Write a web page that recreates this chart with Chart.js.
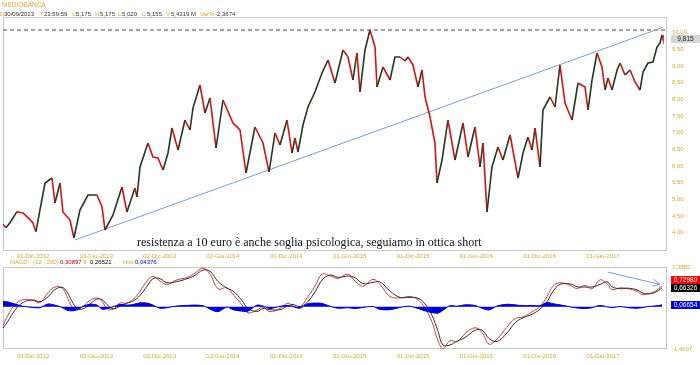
<!DOCTYPE html>
<html><head><meta charset="utf-8">
<script src="https://cdn.jsdelivr.net/npm/chart.js@4"></script>
<style>
html,body{margin:0;padding:0;background:#fff;}
body{width:700px;height:365px;overflow:hidden;position:relative;font-family:"Liberation Sans",Arial,sans-serif;}
canvas{position:absolute;left:0;}
#c1{top:0;} #c2{top:250px;}
.t{position:absolute;font-size:6px;line-height:7px;white-space:nowrap;color:#333;z-index:2;}
.g{color:#d9a936;}
</style></head><body>
<canvas id="c1" width="700" height="262"></canvas>
<canvas id="c2" width="700" height="115"></canvas>
<div class="t g" style="left:2px;top:1px;font-size:6.5px;color:#e3a22e;">MEDIOBANCA</div>
<div class="t g" style="left:0px;top:11px">D</div><div class="t" style="left:4px;top:11px">30/09/2013</div>
<div class="t g" style="left:40px;top:11px">T</div><div class="t" style="left:44px;top:11px">23:59:59</div>
<div class="t g" style="left:72px;top:11px">O</div><div class="t" style="left:76px;top:11px">5,175</div>
<div class="t g" style="left:95px;top:11px">H</div><div class="t" style="left:100px;top:11px">5,175</div>
<div class="t g" style="left:118px;top:11px">L</div><div class="t" style="left:122px;top:11px">5,020</div>
<div class="t g" style="left:142px;top:11px">C</div><div class="t" style="left:147px;top:11px">5,155</div>
<div class="t g" style="left:166px;top:11px">V</div><div class="t" style="left:171px;top:11px">5,4319 M</div>
<div class="t g" style="left:200px;top:11px">Var%</div><div class="t" style="left:215px;top:11px">-2,3674</div>
<div class="t g" style="left:10px;top:259px">MACD</div>
<div class="t g" style="left:33px;top:259px">(12 , 200)</div>
<div class="t" style="left:60px;top:259px;color:#c00000">0,30897</div>
<div class="t g" style="left:83px;top:259px">9</div>
<div class="t" style="left:90px;top:259px;color:#000">0,26521</div>
<div class="t g" style="left:123px;top:259px">Hist</div>
<div class="t" style="left:135px;top:259px;color:#0000b0">0,04376</div>
<script>
// ---------- DATA ----------
const dateTickMonths = [0, 6, 12, 18, 24, 30, 36, 42, 48, 54];
const dateTickLabels = ["03-Dic-2012","03-Giu-2013","02-Dic-2013","02-Giu-2014","01-Dic-2014","01-Giu-2015","01-Dic-2015","01-Giu-2016","01-Dic-2016","01-Giu-2017"];
const priceTicks = [4,4.5,5,5.5,6,6.5,7,7.5,8,8.5,9,9.5,10];
const macdAxisTicks = [-1.4697, 1.3882];

const priceMonths = [-2.84,-2.56,-2.18,-1.52,-0.95,-0.47,0,0.28,0.66,1.14,1.80,2.08,2.56,2.84,3.51,3.88,4.45,5.21,6.06,6.54,6.82,7.58,8.43,8.90,9.66,9.85,10.14,10.89,11.37,11.84,12.32,12.79,13.17,13.74,14.40,14.87,15.16,15.82,16.29,16.77,17.34,18.00,18.95,19.61,20.18,21.03,21.79,22.36,22.93,23.40,24.06,24.54,24.82,25.10,25.58,26.05,26.71,27.38,27.95,28.61,29.37,29.84,30.31,30.69,30.98,31.45,31.92,32.40,32.59,33.16,33.82,34.29,34.77,35.24,35.53,36.00,36.47,36.85,37.14,37.61,38.08,38.27,38.75,39.31,39.98,40.74,41.21,41.87,42.35,42.63,43.01,43.48,44.05,44.52,45.19,45.95,46.42,46.89,47.27,47.56,48.03,48.31,48.98,49.45,49.92,50.40,51.06,51.63,52.29,52.58,52.96,53.43,53.90,54.19,54.47,54.85,55.33,55.61,56.08,56.56,57.03,57.50,57.79,58.26,58.73,59.11,59.40,59.59,59.68];
const priceValues = [4.25,4.15,4.30,4.63,4.59,4.45,4.29,4.03,4.68,5.49,5.64,4.89,5.49,4.62,4.38,3.84,4.68,5.13,5.13,4.77,4.08,4.53,5.37,4.62,5.34,5.07,5.97,6.69,6.27,6.24,5.88,6.39,7.14,6.48,7.38,7.08,7.74,8.43,7.59,8.04,6.54,7.98,7.29,7.08,5.79,7.17,6.69,5.82,6.99,6.63,7.38,6.39,6.84,6.42,7.23,7.77,8.22,8.79,9.18,8.49,9.48,9.27,8.58,9.39,8.22,9.48,10.08,9.57,8.37,8.97,8.58,9.27,9.27,9.15,9.27,9.03,8.37,8.88,8.07,7.47,6.69,5.49,6.18,7.38,6.18,7.29,6.27,7.17,5.97,6.69,4.62,5.97,6.57,6.18,6.93,5.64,6.39,6.87,6.48,7.14,5.97,7.68,8.07,7.77,9.03,7.89,7.38,8.49,8.37,7.68,8.58,9.39,8.97,8.28,8.64,8.28,8.88,9.09,8.73,8.88,8.52,8.28,8.82,9.09,9.12,9.57,9.69,9.93,9.815];

const trendMonths = [3.98, 59.68];
const trendValues = [3.78, 10.16];
const resistanceLevel = 10.08;
const noteText = "resistenza a 10 euro è anche soglia psicologica, seguiamo in ottica short";
const noteMonth = 9.85, noteValue = 3.68;

const macdMonths = [-2.84,-2.37,-1.71,-0.95,0,0.66,1.42,2.08,2.75,3.22,3.69,4.17,4.74,5.40,6.06,6.54,7.01,7.58,8.24,8.90,9.47,10.14,10.80,11.37,12.03,12.69,13.64,14.59,15.35,16.10,16.77,17.53,18.38,18.95,19.80,20.37,21.22,21.79,22.45,23.40,24.16,24.63,25.29,25.96,26.71,27.38,28.14,28.89,29.84,30.50,31.26,32.21,32.87,33.82,34.77,35.71,36.47,37.14,37.80,38.37,38.84,39.50,40.17,40.92,41.87,42.53,43.20,43.96,44.90,45.66,46.42,47.27,48.03,48.69,49.26,49.92,50.87,51.54,52.29,52.96,53.71,54.38,54.85,55.61,56.37,57.22,57.69,58.26,58.92,59.59];
const macdValues = [-0.65,-0.29,0.07,0.25,0.22,0.15,0.49,0.69,0.66,0.36,0.01,-0.11,0.01,0.22,0.31,0.19,-0.05,-0.09,0.13,0.13,0.25,0.54,0.90,1.06,0.90,0.78,0.94,1.02,1.18,1.35,1.14,0.63,0.66,0.43,0.07,-0.21,-0.11,-0.01,-0.17,-0.05,0.13,0.03,-0.01,0.31,0.72,1.14,1.08,0.99,1.14,0.90,0.72,0.96,0.78,0.36,0.31,0.36,0.25,-0.05,-0.53,-1.18,-1.46,-1.18,-1.21,-0.94,-0.73,-0.89,-1.30,-1.12,-0.71,-0.41,-0.35,-0.17,0.01,0.36,0.72,0.84,0.75,0.64,0.75,0.63,0.94,0.80,0.60,0.66,0.63,0.54,0.43,0.46,0.54,0.72980];
const signalValues = [-0.75,-0.50,-0.12,0.15,0.24,0.18,0.35,0.60,0.68,0.52,0.20,-0.05,-0.07,0.10,0.27,0.25,0.08,-0.07,0.02,0.13,0.20,0.40,0.72,0.98,0.98,0.84,0.88,0.98,1.10,1.28,1.24,0.88,0.65,0.55,0.22,-0.06,-0.16,-0.06,-0.10,-0.10,0.04,0.08,0.01,0.15,0.52,0.93,1.11,1.03,1.07,1.02,0.81,0.85,0.87,0.55,0.33,0.33,0.30,0.10,-0.30,-0.85,-1.33,-1.33,-1.20,-1.07,-0.82,-0.81,-1.10,-1.21,-0.91,-0.56,-0.38,-0.26,-0.08,0.18,0.54,0.78,0.80,0.70,0.69,0.69,0.78,0.87,0.70,0.63,0.65,0.59,0.49,0.45,0.50,0.66326];
const histValues = [0.19,0.17,0.10,0.02,-0.02,-0.03,0.10,0.06,-0.02,-0.12,-0.14,-0.10,0.02,0.09,0.06,-0.08,-0.07,0.00,0.08,0.06,0.08,0.14,0.13,0.06,-0.05,-0.03,0.03,0.05,0.06,0.04,-0.08,-0.17,-0.01,-0.10,-0.15,-0.15,0.06,0.03,-0.06,0.02,0.05,0.01,-0.05,0.10,0.13,0.12,0.02,-0.05,-0.03,-0.06,-0.02,0.01,-0.09,-0.10,-0.02,0.02,-0.06,-0.14,-0.20,-0.22,-0.12,0.04,0.02,0.07,0.05,-0.05,-0.11,0.03,0.09,0.07,0.04,0.05,0.04,0.15,0.11,0.07,0.00,-0.04,-0.06,-0.03,0.05,0.00,-0.03,0.01,-0.03,-0.05,-0.03,0.01,0.03,0.06654];
const arrowMonths = [54.47, 59.40];
const arrowValues = [1.21, 0.78];

const xMin = -2.84, xMax = 60.06;
const priceMin = 3.45, priceMax = 10.47;

// ---------- STYLE ----------
const GOLD = '#d9a936';
const UP = '#1f3a20', DOWN = '#d41212';
const TREND = '#7b9bdc';
const tickFont = {family:'"Liberation Sans", Arial, sans-serif', size:6};
const comma = (v,d) => v.toFixed(d).replace('.', ',');
const pts = (xs, ys) => xs.map((x,i)=>({x, y:ys[i]}));

const framePlugin = {
  id:'frame',
  beforeDatasetsDraw(chart){
    const a = chart.chartArea, c = chart.ctx;
    c.save(); c.strokeStyle = '#c9c9c9'; c.lineWidth = 1;
    c.strokeRect(Math.round(a.left)+0.5, Math.round(a.top)+0.5, Math.round(a.right-a.left)-1, Math.round(a.bottom-a.top)-1);
    c.restore();
  }
};

function valueBoxes(chart, items){
  const c = chart.ctx, a = chart.chartArea, y = chart.scales.y, h = 8;
  items.forEach(it => it.py = y.getPixelForValue(it.v));
  items.sort((p,q)=>q.py-p.py);
  for (let i=1;i<items.length;i++){
    if (items[i].py > items[i-1].py - h) items[i].py = items[i-1].py - h;
  }
  c.save();
  items.forEach(it=>{
    c.fillStyle = it.bg;
    c.fillRect(a.right+4, Math.round(it.py - h/2), chart.width - a.right - 4, h);
    c.fillStyle = it.fg; c.font = '6.5px "Liberation Sans", Arial, sans-serif';
    c.textAlign='center'; c.textBaseline='middle';
    c.fillText(it.txt, (a.right+4+chart.width)/2, Math.round(it.py)+0.5);
  });
  c.restore();
}

const mainPlugin = {
  id:'mainExtras',
  afterDraw(chart){
    const c = chart.ctx, x = chart.scales.x, y = chart.scales.y;
    c.save();
    c.font = '12px "Liberation Serif", "Times New Roman", serif';
    c.fillStyle = '#111'; c.textAlign='left'; c.textBaseline='middle';
    c.fillText(noteText, x.getPixelForValue(noteMonth), y.getPixelForValue(noteValue));
    c.restore();
    const last = priceValues[priceValues.length-1];
    valueBoxes(chart, [{v:last, bg:'#d6d6d6', fg:'#222', txt:comma(last,3)}]);
  }
};

const macdPlugin = {
  id:'macdExtras',
  afterDraw(chart){
    const meta = chart.getDatasetMeta(3);
    const p0 = meta.data[0], p1 = meta.data[1], c = chart.ctx;
    const ang = Math.atan2(p1.y-p0.y, p1.x-p0.x), L = 8;
    c.save(); c.strokeStyle = TREND; c.lineWidth = 1;
    c.beginPath();
    [-0.45, 0.45].forEach(d=>{
      c.moveTo(p1.x, p1.y);
      c.lineTo(p1.x - L*Math.cos(ang+d), p1.y - L*Math.sin(ang+d));
    });
    c.stroke(); c.restore();
    const n = macdValues.length-1;
    valueBoxes(chart, [
      {v:macdValues[n], bg:'#ff0000', fg:'#fff', txt:comma(macdValues[n],5)},
      {v:signalValues[n], bg:'#000000', fg:'#fff', txt:comma(signalValues[n],5)},
      {v:histValues[n], bg:'#0000cc', fg:'#fff', txt:comma(histValues[n],5)}
    ]);
  }
};

const xScale = (h, pad) => ({
  type:'linear', min:xMin, max:xMax, position:'bottom',
  grid:{display:false, drawTicks:false}, border:{display:false},
  afterBuildTicks: s => { s.ticks = dateTickMonths.map(v=>({value:v})); },
  afterFit: s => { s.height = h; },
  ticks:{font:tickFont, color:GOLD, padding:pad, maxRotation:0, autoSkip:false,
    callback: v => { const i = dateTickMonths.indexOf(v); return i>=0 ? dateTickLabels[i] : ''; }}
});

new Chart(document.getElementById('c1'), {
  type:'line',
  data:{datasets:[
    {data:pts(priceMonths, priceValues), borderWidth:1.6, pointRadius:0, tension:0,
     borderColor:UP,
     segment:{borderColor: ctx => ctx.p1.parsed.y < ctx.p0.parsed.y ? DOWN : UP}},
    {data:pts(trendMonths, trendValues), borderColor:TREND, borderWidth:1, pointRadius:0},
    {data:pts([xMin,xMax],[resistanceLevel,resistanceLevel]), borderColor:'#4a4a4a', borderWidth:1, borderDash:[4,3], pointRadius:0}
  ]},
  options:{
    responsive:false, animation:false, devicePixelRatio:1,
    layout:{padding:{left:3, top:17, right:0, bottom:0}},
    plugins:{legend:{display:false}, tooltip:{enabled:false}},
    scales:{
      x: xScale(11, 2),
      y:{type:'linear', position:'right', min:priceMin, max:priceMax,
        grid:{display:false, drawTicks:false}, border:{display:false},
        afterBuildTicks: s => { s.ticks = priceTicks.map(v=>({value:v})); },
        afterFit: s => { s.width = 33; },
        ticks:{font:tickFont, color:GOLD, padding:5, callback: v => comma(v,2)}}
    }
  },
  plugins:[framePlugin, mainPlugin]
});

new Chart(document.getElementById('c2'), {
  type:'line',
  data:{datasets:[
    {data:pts(macdMonths, histValues), borderColor:'#0000cc', backgroundColor:'#0000cc', borderWidth:1, pointRadius:0, fill:'origin', tension:0.3},
    {data:pts(macdMonths, signalValues), borderColor:'#3a2a2a', borderWidth:1, pointRadius:0, tension:0.4},
    {data:pts(macdMonths, macdValues), borderColor:'#c84040', borderWidth:1, pointRadius:0, tension:0.4},
    {data:pts(arrowMonths, arrowValues), borderColor:TREND, borderWidth:1, pointRadius:0}
  ]},
  options:{
    responsive:false, animation:false, devicePixelRatio:1,
    layout:{padding:{left:3, top:17, right:0, bottom:0}},
    plugins:{legend:{display:false}, tooltip:{enabled:false}},
    scales:{
      x: xScale(16, 4),
      y:{type:'linear', position:'right', min:macdAxisTicks[0], max:macdAxisTicks[1],
        grid:{display:false, drawTicks:false}, border:{display:false},
        afterBuildTicks: s => { s.ticks = macdAxisTicks.map(v=>({value:v})); },
        afterFit: s => { s.width = 33; },
        ticks:{font:tickFont, color:GOLD, padding:5, callback: v => comma(v,4)}}
    }
  },
  plugins:[framePlugin, macdPlugin]
});
</script>
</body></html>
